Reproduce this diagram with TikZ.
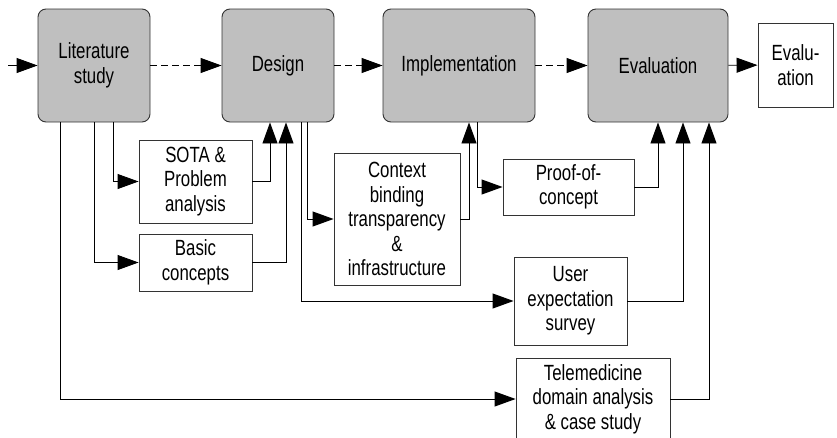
\documentclass[tikz,border=0pt]{standalone}
\usepackage{fontspec}
\setmainfont{Liberation Sans}[FakeStretch=0.765]
\usetikzlibrary{arrows.meta}

\begin{document}
\begin{tikzpicture}[x=1pt,y=-1pt,
				line width=0.9pt,
				>={Triangle[length=21pt,width=15pt]},
				every node/.style={font=\fontsize{22}{24.5}\selectfont, align=center, inner sep=0pt},
				phase/.style={draw=black!80, fill=black!25, rounded corners=8pt, minimum height=113pt},
				task/.style={draw=black!80, fill=white},
				flow/.style={dash pattern=on 7pt off 4pt}]
				\useasboundingbox (0,0) rectangle (837,437);
				% phases
				\node[phase, minimum width=112pt] (lit) at (94,65.5) {Literature\\study};
				\node[phase, minimum width=112pt] (design) at (278,65.5) {Design};
				\node[phase, minimum width=152pt] (impl) at (459,65.5) {Implementation};
				\node[phase, minimum width=140pt] (eval) at (658,65.5) {Evaluation};
				\node[task, minimum width=75pt, minimum height=84pt] (result) at (795.5,65) {Evalu-\\ation};
				\coordinate (start) at (8,65.5);
				% tasks
				\node[task, minimum width=113pt, minimum height=83pt] (sota) at (195.5,181.5) {SOTA \&\\Problem\\analysis};
				\node[task, minimum width=113pt, minimum height=57pt] (basic) at (195.5,262.5) {Basic\\concepts};
				\node[task, minimum width=126pt, minimum height=132pt] (context) at (397,219) {Context\\binding\\transparency\\\&\\infrastructure};
				\node[task, minimum width=131pt, minimum height=56pt] (proof) at (568.5,187) {Proof-of-\\concept};
				\node[task, minimum width=113pt, minimum height=88pt] (survey) at (570.5,301) {User\\expectation\\survey};
				\node[task, minimum width=154pt, minimum height=82pt] (tele) at (593,399) {Telemedicine\\domain analysis\\\& case study};
				% main line
				\draw[->] (start) -- (lit);
				\draw[->, flow] (lit) -- (design);
				\draw[->, flow] (design) -- (impl);
				\draw[->, flow] (impl) -- (eval);
				\draw[->] (eval) -- (result);
				% literature study
				\draw[->] ([xshift=19pt]lit.south) |- (sota.west);
				\draw[->] (lit.south) |- (basic.west);
				\draw[->] ([xshift=-34pt]lit.south) |- (tele.west);
				% design
				\draw[->] (sota.east) -| ([xshift=-8pt]design.south);
				\draw[->] (basic.east) -| ([xshift=8pt]design.south);
				\draw[->] ([xshift=29pt]design.south) |- (context.west);
				\draw[->] ([xshift=23pt]design.south) |- (survey.west);
				% implementation
				\draw[->] (context.east) -| ([xshift=10pt]impl.south);
				\draw[->] ([xshift=18pt]impl.south) |- (proof.west);
				% evaluation
				\draw[->] (proof.east) -| (eval.south);
				\draw[->] (survey.east) -| ([xshift=25pt]eval.south);
				\draw[->] (tele.east) -| ([xshift=51pt]eval.south);
			\end{tikzpicture}
\end{document}
